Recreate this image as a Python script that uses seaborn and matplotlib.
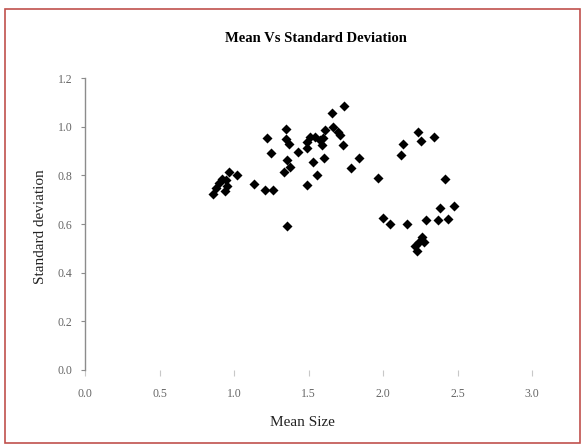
import matplotlib
matplotlib.use("Agg")
import matplotlib.pyplot as plt
import seaborn as sns
import pandas as pd
from matplotlib.patches import Rectangle

mean_size = [0.859, 0.879, 0.899, 0.919, 0.940, 0.953, 0.966, 0.946, 1.020, 1.134,
             1.208, 1.262, 1.221, 1.248, 1.349, 1.349, 1.369, 1.356, 1.376, 1.336,
             1.356, 1.430, 1.490, 1.510, 1.544, 1.577, 1.591, 1.611, 1.597, 1.490,
             1.530, 1.604, 1.557, 1.490, 1.658, 1.738, 1.664, 1.698, 1.711, 1.732,
             1.785, 1.839, 1.966, 2.134, 2.121, 2.235, 2.255, 2.342, 2.416, 2.000,
             2.047, 2.161, 2.289, 2.369, 2.436, 2.383, 2.477, 2.215, 2.228, 2.262,
             2.242, 2.275]
std_dev = [0.723, 0.748, 0.769, 0.785, 0.736, 0.756, 0.814, 0.781, 0.801, 0.764,
           0.740, 0.740, 0.954, 0.892, 0.991, 0.949, 0.929, 0.863, 0.834, 0.814,
           0.592, 0.896, 0.937, 0.958, 0.958, 0.945, 0.925, 0.986, 0.954, 0.912,
           0.855, 0.871, 0.801, 0.760, 1.056, 1.085, 0.999, 0.978, 0.966, 0.925,
           0.830, 0.871, 0.789, 0.929, 0.884, 0.978, 0.941, 0.958, 0.785, 0.625,
           0.600, 0.600, 0.617, 0.617, 0.621, 0.666, 0.674, 0.510, 0.489, 0.547,
           0.526, 0.526]
x_ticks = [0.0, 0.5, 1.0, 1.5, 2.0, 2.5, 3.0]
y_ticks = [0.0, 0.2, 0.4, 0.6, 0.8, 1.0, 1.2]
x_tick_labels = ["0.0", "0.5", "1.0", "1.5", "2.0", "2.5", "3.0"]
y_tick_labels = ["0.0", "0.2", "0.4", "0.6", "0.8", "1.0", "1.2"]

df = pd.DataFrame({"Mean Size": mean_size, "Standard deviation": std_dev})

sns.set_style("white")
plt.rcParams["font.family"] = ["Liberation Serif", "DejaVu Serif"]

fig = plt.figure(figsize=(5.84, 4.48), dpi=100)
ax = fig.add_axes([85 / 584, 1 - 370 / 448, (532 - 85) / 584, (370 - 78) / 448])

sns.scatterplot(data=df, x="Mean Size", y="Standard deviation", ax=ax,
                marker="D", s=26, color="black", linewidth=0, legend=False)

ax.set_xlim(0, 3.0)
ax.set_ylim(0, 1.2)
ax.set_xticks(x_ticks)
ax.set_xticklabels(x_tick_labels)
ax.set_yticks(y_ticks)
ax.set_yticklabels(y_tick_labels)
ax.set_xlabel("")
ax.set_ylabel("")

for s in ["top", "right", "bottom"]:
    ax.spines[s].set_visible(False)
ax.spines["left"].set_color("#8c8c8c")
ax.spines["left"].set_linewidth(1.0)

ax.tick_params(axis="y", direction="out", length=3, width=0.8, color="#8c8c8c",
               labelsize=8.5, labelcolor="#666666", pad=6, left=True)
ax.tick_params(axis="x", direction="out", length=4, width=0.8, color="#c8c8c8",
               labelsize=8.5, labelcolor="#666666", pad=9, bottom=True)

fig.text(316 / 584, 1 - 38 / 448, "Mean Vs Standard Deviation", ha="center", va="center",
         fontsize=10.5, fontweight="bold", color="black")
fig.text(302 / 584, 1 - 422 / 448, "Mean Size", ha="center", va="center",
         fontsize=11, color="#222222")
fig.text(40 / 584, 1 - 227 / 448, "Standard deviation", ha="center", va="center",
         rotation=90, fontsize=11, color="#222222")

fig.patches.append(Rectangle((5 / 584, 1 - 443 / 448), (580 - 5) / 584, (443 - 9) / 448,
                             transform=fig.transFigure, fill=False,
                             edgecolor="#c0504d", linewidth=1.2))

fig.savefig("out.png", dpi=100)
